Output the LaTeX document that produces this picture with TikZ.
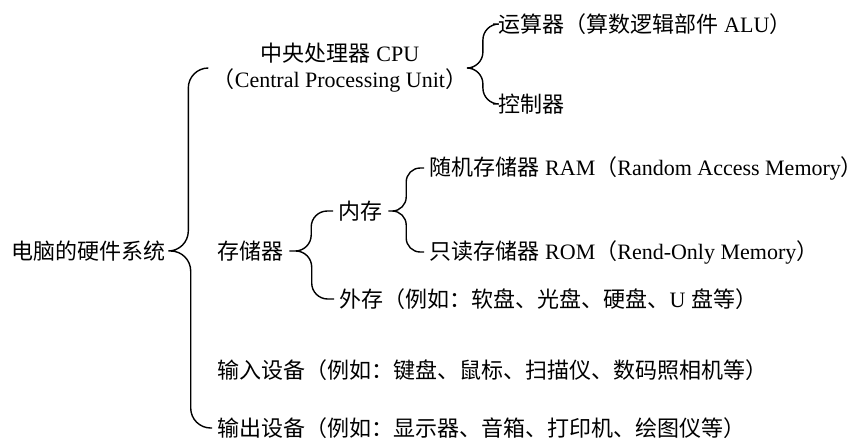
\documentclass[tikz,border=0pt]{standalone}
\usepackage{fontspec}
\setmainfont{Liberation Serif}
\newfontfamily\cjk{Noto Sans CJK SC}
\newcommand{\zh}[1]{{\cjk #1}}
\usetikzlibrary{calc}
\tikzset{
  brace/.style={to path={let \p1=(\tikztostart), \p2=(\tikztotarget) in
      -- ({(\x1+\x2)/2},\y1) -- ({(\x1+\x2)/2},\y2) -- (\tikztotarget)}},
  item/.style={anchor=west, inner sep=2.5pt}
}

\begin{document}
\begin{tikzpicture}[x=0.5pt, y=-0.5pt, font=\fontsize{11}{13}\selectfont, line width=0.7pt]
    % Page size of the picture
    \useasboundingbox (0,0) rectangle (867,446);

    % Root of the tree
    \node[item, inner sep=1.5pt] (root) at (8,251) {\zh{电脑的硬件系统}};

    % First level
    \node[inner sep=2.5pt, align=center] (cpu) at (340,68)
      {\zh{中央处理器} CPU\\\zh{（}Central Processing Unit\zh{）}};
    \node[item] (mem) at (212,251) {\zh{存储器}};
    \node[item] (input) at (212,370) {\zh{输入设备（例如：键盘、鼠标、扫描仪、数码照相机等）}};
    \node[item] (output) at (212,428) {\zh{输出设备（例如：显示器、音箱、打印机、绘图仪等）}};

    % Parts of the CPU
    \node[item] (alu) at (493,24) {\zh{运算器（算数逻辑部件} ALU\zh{）}};
    \node[item] (ctrl) at (493,104) {\zh{控制器}};

    % Parts of the memory
    \node[item] (inner) at (333,211) {\zh{内存}};
    \node[item] (outer) at (334,299) {\zh{外存（例如：软盘、光盘、硬盘、}U \zh{盘等）}};
    \node[item] (ram) at (424,168) {\zh{随机存储器} RAM\zh{（}Random Access Memory\zh{）}};
    \node[item] (rom) at (424,252) {\zh{只读存储器} ROM\zh{（}Rend-Only Memory\zh{）}};

    % Braces
    \draw[rounded corners=10pt] (root.east) to[brace] (cpu.west)
                                (root.east) to[brace] (output.west);
    \draw[rounded corners=8pt] (cpu.east) to[brace] (alu.west)
                               (cpu.east) to[brace] (ctrl.west);
    \draw[rounded corners=8pt] (mem.east) to[brace] (inner.west)
                               (mem.east) to[brace] (outer.west);
    \draw[rounded corners=7pt] (inner.east) to[brace] (ram.west)
                               (inner.east) to[brace] (rom.west);
\end{tikzpicture}
\end{document}
